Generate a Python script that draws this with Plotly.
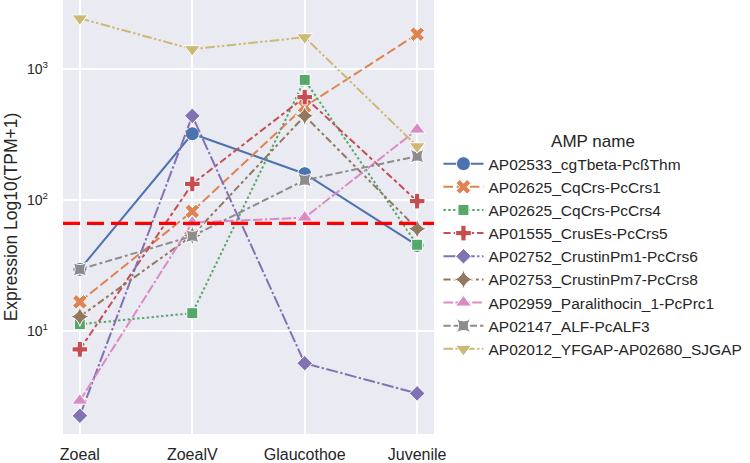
import plotly.graph_objects as go

stages = ["Zoeal", "ZoealV", "Glaucothoe", "Juvenile"]

names = [
    "AP02533_cgTbeta-PcßThm",
    "AP02625_CqCrs-PcCrs1",
    "AP02625_CqCrs-PcCrs4",
    "AP01555_CrusEs-PcCrs5",
    "AP02752_CrustinPm1-PcCrs6",
    "AP02753_CrustinPm7-PcCrs8",
    "AP02959_Paralithocin_1-PcPrc1",
    "AP02147_ALF-PcALF3",
    "AP02012_YFGAP-AP02680_SJGAP",
]

cgTbeta = [29.4, 319, 158, 44.8]
cqcrs1 = [16.6, 81.5, 515, 1837]
cqcrs4 = [11.2, 13.6, 822, 45.3]
crusEs5 = [7.2, 132, 607, 97.5]
crustinPm1 = [2.24, 437, 5.64, 3.32]
crustinPm7 = [12.8, 53.3, 437, 60]
paralithocin = [2.92, 66.8, 73, 343]
alf3 = [29.4, 52.7, 141, 215]
yfgap = [2427, 1412, 1742, 256]

series = [cgTbeta, cqcrs1, cqcrs4, crusEs5, crustinPm1, crustinPm7, paralithocin, alf3, yfgap]

threshold = 66

colors = ["#4C72B0", "#DD8452", "#55A868", "#C44E52", "#8172B3",
          "#937860", "#DA8BC3", "#8C8C8C", "#CCB974"]
symbols = ["circle", "x", "square", "cross", "diamond",
           "star-diamond", "triangle-up", "star-square", "triangle-down"]
msizes = [14, 13, 11, 13, 12, 14, 14, 13, 14]

LW = 2.0
S = 2.4
dash_units = [None, (4, 1.5), (1, 1), (3, 1.25, 1.5, 1.25), (5, 1, 1, 1),
              (3, 1.25, 1.25, 1.25, 1.25, 1.25), (4, 1, 4, 1, 1, 1),
              (3, 1.25, 3, 1.25, 1.25, 1.25), (4, 1, 1, 1, 1, 1)]


def dash_str(d):
    if d is None:
        return "solid"
    return ",".join(f"{v * S:.1f}px" for v in d)


fig = go.Figure()
for name, vals, c, sym, ms, d in zip(names, series, colors, symbols, msizes, dash_units):
    fig.add_trace(go.Scatter(
        x=stages, y=vals, name=name, mode="lines+markers",
        line=dict(color=c, width=LW, dash=dash_str(d)),
        marker=dict(symbol=sym, size=ms, color=c, line=dict(color="white", width=1)),
    ))

fig.add_hline(y=threshold, line=dict(color="#FF0000", width=3.2, dash="17px,7px"), layer="above")

font_family = "Liberation Sans, Arial, sans-serif"
fig.update_layout(
    width=750, height=463,
    margin=dict(l=63, r=316, t=0, b=27),
    paper_bgcolor="white",
    plot_bgcolor="#EAEAF2",
    font=dict(family=font_family, color="#262626", size=16),
    showlegend=True,
    legend=dict(
        title=dict(text="AMP name", side="top center", font=dict(size=17)),
        x=1.012, xanchor="left", y=0.712, yanchor="top",
        font=dict(size=15.5), bgcolor="rgba(0,0,0,0)",
        itemwidth=40, tracegroupgap=0,
    ),
    xaxis=dict(
        type="category", range=[-0.15, 3.15],
        showgrid=True, gridcolor="white", gridwidth=1.5,
        zeroline=False, showline=False, ticks="",
        tickfont=dict(size=16), ticklabelstandoff=9,
    ),
    yaxis=dict(
        type="log", range=[0.211, 3.525],
        tickvals=[10, 100, 1000],
        ticktext=["10<sup>1</sup>", "10<sup>2</sup>", "10<sup>3</sup>"],
        showgrid=True, gridcolor="white", gridwidth=1.5,
        zeroline=False, showline=False, ticks="",
        tickfont=dict(size=14), ticklabelstandoff=14,
        title=dict(text="Expression Log10(TPM+1)", font=dict(size=17.5), standoff=4),
    ),
)

fig.write_html("out.html")
